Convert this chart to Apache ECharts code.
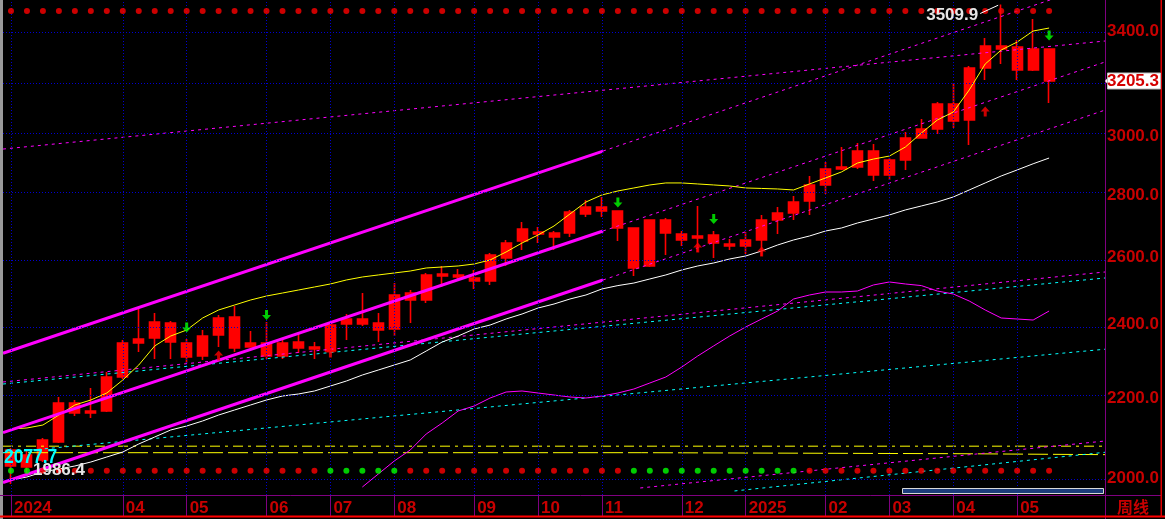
<!DOCTYPE html>
<html><head><meta charset="utf-8">
<script src="https://cdn.jsdelivr.net/npm/echarts@6/dist/echarts.min.js"></script>
<style>html,body{margin:0;padding:0;background:#000;}#c{width:1165px;height:519px;}</style>
</head><body><div id="c"></div><script>
// ---------- data ----------
const weeks = ['2024-02-09','2024-02-23','2024-03-01','2024-03-08','2024-03-15','2024-03-22','2024-03-29','2024-04-05','2024-04-12','2024-04-19','2024-04-26','2024-05-03','2024-05-10','2024-05-17','2024-05-24','2024-05-31','2024-06-07','2024-06-14','2024-06-21','2024-06-28','2024-07-05','2024-07-12','2024-07-19','2024-07-26','2024-08-02','2024-08-09','2024-08-16','2024-08-23','2024-08-30','2024-09-06','2024-09-13','2024-09-20','2024-09-27','2024-10-04','2024-10-11','2024-10-18','2024-10-25','2024-11-01','2024-11-08','2024-11-15','2024-11-22','2024-11-29','2024-12-06','2024-12-13','2024-12-20','2024-12-27','2025-01-03','2025-01-10','2025-01-17','2025-01-24','2025-01-31','2025-02-07','2025-02-14','2025-02-21','2025-02-28','2025-03-07','2025-03-14','2025-03-21','2025-03-28','2025-04-03','2025-04-11','2025-04-18','2025-04-25','2025-05-02','2025-05-09','2025-05-16','','',''];
const monthStart = [0,7,11,16,20,24,29,33,37,42,46,51,55,59,63];
const monthText = ['2024','04','05','06','07','08','09','10','11','12','2025','02','03','04','05'];
const yTicks = [2000,2200,2400,2600,2800,3000,3200,3400];
const yMin = 1960.7, yMax = 3528.8;
// [open, close, low, high]
const candles = [
[2029.4,2068.3,1986.4,2073.2],[2056.2,2027.0,2007.8,2068.3],[2043.9,2093.0,2039.0,2098.0],[2088.1,2187.0,2085.6,2202.6],
[2187.0,2161.2,2153.5,2194.8],[2166.3,2161.2,2148.4,2226.3],[2166.3,2255.5,2163.7,2268.9],[2255.5,2348.5,2250.2,2356.8],
[2348.5,2359.6,2323.5,2445.1],[2362.4,2407.7,2304.3,2433.6],[2404.8,2351.2,2304.3,2410.6],[2348.5,2309.7,2293.3,2359.6],
[2312.5,2368.0,2301.6,2384.9],[2370.8,2419.2,2337.3,2427.8],[2422.0,2334.5,2323.5,2453.9],[2348.5,2337.3,2337.3,2382.1],
[2348.5,2312.5,2304.3,2407.7],[2312.5,2348.5,2304.3,2356.8],[2351.2,2334.5,2320.7,2373.5],[2337.3,2331.7,2304.3,2351.2],
[2326.2,2399.1,2318.0,2407.7],[2402.0,2416.3,2356.8,2430.7],[2416.3,2402.0,2396.3,2492.0],[2404.8,2384.9,2351.2,2433.6],
[2387.8,2486.2,2368.0,2521.7],[2471.4,2492.0,2404.8,2500.9],[2471.4,2546.0,2462.6,2552.0],[2549.0,2542.9,2509.9,2573.3],
[2546.0,2539.9,2530.9,2564.1],[2536.9,2527.9,2504.0,2561.1],[2527.9,2607.1,2515.9,2613.3],[2597.8,2644.5,2573.3,2654.0],
[2650.8,2688.8,2622.6,2711.3],[2679.3,2672.9,2644.5,2695.2],[2676.1,2663.4,2622.6,2682.4],[2676.1,2743.7,2663.4,2750.3],
[2737.3,2760.1,2727.5,2783.1],[2760.1,2747.0,2727.5,2793.0],[2747.0,2692.0,2650.8,2747.0],[2692.0,2567.2,2542.9,2692.0],
[2573.3,2717.7,2570.2,2717.7],[2717.7,2676.1,2607.1,2724.1],[2672.9,2654.0,2635.1,2682.4],[2666.6,2660.2,2616.4,2763.3],
[2669.7,2644.5,2597.8,2682.4],[2641.4,2635.1,2622.6,2657.1],[2635.1,2654.0,2610.2,2679.3],[2654.0,2717.7,2604.0,2734.0],
[2717.7,2740.5,2672.9,2760.1],[2740.5,2776.4,2717.7,2796.4],[2779.8,2833.1,2734.0,2863.5],[2833.1,2887.4,2803.0,2911.5],
[2887.4,2894.3,2884.0,2963.6],[2894.3,2949.5,2887.4,2977.6],[2949.5,2866.9,2846.6,2974.1],[2866.9,2918.2,2850.0,2925.1],
[2918.2,2995.4,2884.0,3016.8],[2995.4,3027.5,2995.4,3063.7],[3027.5,3119.0,3009.6,3126.4],[3119.0,3056.4,3031.0,3197.7],
[3060.1,3255.2,2970.6,3262.9],[3255.2,3341.2,3209.1,3373.0],[3341.2,3329.3,3270.6,3509.9],[3337.2,3247.4,3209.1,3364.9],
[3247.4,3329.3,3243.6,3450.0],[3329.3,3205.3,3122.7,3329.3]];
const maYellow = [2120.5,2123.1,2130.6,2156.0,2181.8,2194.8,2213.1,2247.5,2287.9,2340.4,2368.0,2384.9,2419.2,2442.3,2456.8,2471.4,2483.2,2492.0,2500.9,2509.9,2518.9,2530.9,2539.9,2546.0,2552.0,2558.0,2567.2,2570.2,2573.3,2579.4,2591.7,2616.4,2644.5,2669.7,2698.4,2737.3,2776.4,2799.7,2813.0,2823.0,2833.1,2839.9,2839.9,2836.5,2833.1,2829.7,2823.0,2821.4,2819.7,2816.3,2836.5,2856.7,2877.2,2907.8,2921.6,2932.0,2963.6,3013.2,3060.1,3089.3,3171.3,3270.7,3325.3,3357.1,3401.2,3413.3];
const maWhite = [1996.0,2003.1,2015.0,2022.2,2029.4,2039.0,2051.2,2063.4,2083.1,2100.5,2118.0,2128.1,2140.8,2156.0,2168.9,2181.8,2194.8,2205.2,2210.5,2218.4,2231.5,2244.8,2260.9,2274.3,2287.9,2301.6,2326.2,2351.2,2368.0,2387.8,2399.1,2416.3,2430.7,2448.0,2459.7,2474.4,2486.2,2504.0,2514.1,2521.7,2533.9,2546.0,2561.1,2573.3,2582.5,2594.8,2604.0,2619.5,2638.2,2654.0,2666.6,2682.4,2692.0,2708.0,2720.9,2734.0,2750.3,2763.3,2776.4,2793.0,2816.3,2839.9,2863.5,2884.0,2905.3,2925.1];
const maMagenta = [null,null,null,null,null,null,null,null,null,null,null,null,null,null,null,null,null,null,null,null,null,null,1979.4,2010.2,2041.5,2068.3,2108.0,2135.7,2166.3,2179.2,2200.0,2215.7,2218.4,2213.1,2207.8,2202.6,2200.0,2205.2,2213.1,2223.6,2239.5,2255.5,2282.4,2312.5,2340.4,2368.0,2393.4,2416.3,2439.3,2474.4,2486.2,2495.0,2495.0,2497.9,2515.9,2524.9,2518.9,2514.1,2497.9,2489.1,2468.5,2442.3,2419.2,2416.3,2413.4,2439.3];
// trend lines: [weekPosition, value]
const channelUpper = [[-0.5,2320.0],[37.07,2949.5]];
const channelMiddle = [[-0.5,2111.3],[37.07,2682.4]];
const channelLower = [[-0.5,1990.0],[37.07,2530.9]];
const extUpper = [[37.07,2949.5],[68.5,3607.8]];
const extMiddle = [[37.07,2682.4],[68.5,3278.4]];
const extLower = [[37.07,2530.9],[68.5,3096.5]];
const trendTop = [[-0.5,2956.5],[68.5,3361.1]];
const trendMagenta = [[-0.5,2242.2],[68.5,2555.0]];
const trendCyan = [[-0.5,2236.8],[68.5,2536.9]];
const trendCyanLow = [[-0.5,2061.7],[68.5,2331.2]];
const trendMagentaBottom = [[39.4,1977.1],[68.5,2090.5]];
const trendCyanBottom = [[45.3,1970.1],[68.5,2062.7]];
const level1 = 2077.7;
const level2 = [[-0.5,2061.7],[39.5,2061.7],[39.5,2059.3],[58.9,2059.3],[58.9,2056.9],[68.5,2056.9]];
const topDotLevel = 3482.9, bottomDotLevel = 2018.1;
const bottomSignal = ['g','g','r','r','r','r','r','r','r','r','r','r','r','r','r','r','r','r','r','r','g','g','g','g','g','r','r','r','r','r','r','r','r','r','r','r','r','r','r','g','g','g','g','g','g','g','g','g','g','g','r','r','r','r','r','r','r','r','r','r','r','r','r','r','r','r'];
const downArrowIdx = [11,16,38,44,65];
const downArrowVal = [2392.0,2427.8,2774.9,2720.9,3383.1];
const upArrowIdx = [13,20,43,47,61];
const upArrowVal = [2313.8,2322.1,2630.4,2617.9,3091.1];
const lastClose = 3205.3;
const highMark = [62, 3509.9];
const lowMark = [0, 1986.4];

// ---------- chart ----------
const L = Math.log;
const RED = '#ff0000', AX = '#c80000', PURPLE = '#800080', GRIDC = '#0000d0';
const FONT = 'Liberation Sans';
const isMonth = (i) => monthStart.indexOf(i) >= 0;
const pts = (arr) => arr.map(p => [p[0], L(p[1])]);
function lineS(data, color, width, type, z) {
  return {type:'line', xAxisIndex:1, data: pts(data), symbol:'none', silent:true, animation:false,
    lineStyle:{color, width, type: type || 'solid'}, z: z || 3};
}
const downPath = 'path://M3,0H6V5H9L4.5,10L0,5H3Z';
const upPath = 'path://M4.5,0L9,5H6V10H3V5H0Z';

const option = {
  backgroundColor:'#000',
  animation:false,
  grid:{left:3, top:0, width:1102, height:495, outerBoundsMode:'none'},
  xAxis:[{
    type:'category', data: weeks, boundaryGap:true,
    axisLine:{show:false},
    axisTick:{show:true, alignWithLabel:true, interval:(i)=>isMonth(i), length:21, lineStyle:{color:PURPLE, width:1}},
    axisLabel:{interval:(i)=>isMonth(i), formatter:(v,i)=>monthText[monthStart.indexOf(i)] || '', align:'left',
      color:AX, fontSize:17, fontWeight:'bold', fontFamily:FONT, margin:5, padding:[0,0,0,3]},
    splitLine:{show:false}
  },{
    type:'value', min:-0.5, max:68.5, show:false
  }],
  yAxis:{
    type:'value', position:'right', min:L(yMin), max:L(yMax), scale:true,
    axisLine:{show:false}, axisTick:{show:false}, splitLine:{show:false},
    axisLabel:{customValues: yTicks.map(L), formatter:(v)=>Math.exp(v).toFixed(1), color:AX, fontSize:17,
      fontWeight:'bold', fontFamily:FONT, margin:2, align:'left'}
  },
  series:[
    {type:'line', xAxisIndex:1, data:[[0, L(2000)]], symbol:'none', lineStyle:{opacity:0}, silent:true, z:1,
      markLine:{silent:true, symbol:['none','none'], label:{show:false}, animation:false,
        lineStyle:{color:GRIDC, width:1, type:[1,2]},
        data: yTicks.map(v=>({yAxis:L(v)})).concat(monthStart.map(i=>({xAxis:i})))}},
    {type:'candlestick', xAxisIndex:0, data: candles.map(c=>c.map(L)), barWidth:10.5, z:2,
      itemStyle:{color:RED, color0:RED, borderColor:RED, borderColor0:RED, borderWidth:1.6}},
    lineS(level2, '#ffff00', 1, [20,5], 3),
    lineS([[-0.5, level1],[68.5, level1]], '#ffff00', 1, [10,5,3,5], 3),
    lineS(trendTop, '#ff00ff', 1, [3,4]),
    lineS(trendMagenta, '#ff00ff', 1, [3,4]),
    lineS(trendCyan, '#00ffff', 1, [3,4]),
    lineS(trendCyanLow, '#00ffff', 1, [3,4]),
    lineS(trendMagentaBottom, '#ff00ff', 1, [3,4]),
    lineS(trendCyanBottom, '#00ffff', 1, [3,4]),
    lineS(extUpper, '#ff00ff', 1, [3,4]),
    lineS(extMiddle, '#ff00ff', 1, [3,4]),
    lineS(extLower, '#ff00ff', 1, [3,4]),
    {type:'line', xAxisIndex:0, data: maWhite.map(L), symbol:'none', lineStyle:{color:'#ffffff', width:1}, z:3},
    {type:'line', xAxisIndex:0, data: maMagenta.map(v=>v==null?null:L(v)), symbol:'none', lineStyle:{color:'#ff00ff', width:1}, z:3},
    {type:'line', xAxisIndex:0, data: maYellow.map(L), symbol:'none', lineStyle:{color:'#ffff00', width:1}, z:4},
    lineS(channelUpper, '#ff00ff', 3, 'solid', 4),
    lineS(channelMiddle, '#ff00ff', 3, 'solid', 4),
    lineS(channelLower, '#ff00ff', 3, 'solid', 4),
    {type:'scatter', xAxisIndex:0, symbol:'circle', symbolSize:6, z:6, silent:true,
      data: candles.map((c,i)=>[i, L(topDotLevel)]), itemStyle:{color:RED}},
    {type:'scatter', xAxisIndex:0, symbol:'circle', symbolSize:6, z:6, silent:true,
      data: bottomSignal.map((s,i)=>({value:[i, L(bottomDotLevel)], itemStyle:{color: s==='g' ? '#00ff00' : RED}}))},
    {type:'scatter', xAxisIndex:0, symbol:downPath, symbolSize:[9,10], z:6, silent:true,
      data: downArrowIdx.map((i,k)=>[i, L(downArrowVal[k])]), itemStyle:{color:'#00ff00'}},
    {type:'scatter', xAxisIndex:0, symbol:upPath, symbolSize:[9,10], z:6, silent:true,
      data: upArrowIdx.map((i,k)=>[i, L(upArrowVal[k])]), itemStyle:{color:RED}}
  ]
};
const chart = echarts.init(document.getElementById('c'));
chart.setOption(option);

const P = (x, v) => chart.convertToPixel({seriesIndex:0}, [x, L(v)]);
const lc = P(68.5, lastClose);
const hp = P(highMark[0], highMark[1]);
const lp = P(lowMark[0], lowMark[1]);
const l1 = P(-0.5, level1);
const boldFont = 'bold 17px "' + FONT + '"';
chart.setOption({graphic:[
  {type:'rect', shape:{x:0,y:0,width:3,height:519}, style:{fill:'#9a9a9a'}, z:50, silent:true},
  {type:'line', shape:{x1:0,y1:495.5,x2:1161,y2:495.5}, style:{stroke:PURPLE, lineWidth:1}, z:50, silent:true},
  {type:'line', shape:{x1:1105.5,y1:0,x2:1105.5,y2:519}, style:{stroke:PURPLE, lineWidth:1}, z:50, silent:true},
  {type:'rect', shape:{x:0,y:515.5,width:1165,height:2}, style:{fill:'#ff0000'}, z:50, silent:true},
  {type:'rect', shape:{x:1160.5,y:0,width:1.5,height:517}, style:{fill:'#e00000'}, z:50, silent:true},
  {type:'rect', shape:{x:902.5,y:488.5,width:201,height:5}, style:{fill:'#1c3c7c', stroke:'#d8d8d8', lineWidth:1}, z:50, silent:true},
  {type:'text', x:1117, y:507, style:{text:'周线', fill:AX, font:'bold 16px "Noto Sans CJK SC"', verticalAlign:'middle'}, z:60, silent:true},
  {type:'polygon', shape:{points:[[1105, lc[1]],[1109, lc[1]-5],[1109, lc[1]+5]]}, style:{fill:'#ffffff'}, z:60, silent:true},
  {type:'rect', shape:{x:1107.5, y:lc[1]-8, width:53, height:16}, style:{fill:'#ffffff', stroke:'#bdbdbd', lineWidth:1}, z:60, silent:true},
  {type:'text', x:1107, y:lc[1]+0.5, style:{text:lastClose.toFixed(1), fill:'#d40000', font:boldFont, verticalAlign:'middle'}, z:61, silent:true},
  {type:'text', x:hp[0]-23, y:hp[1]+11, style:{text:highMark[1].toFixed(1), fill:'#e6e6e6', font:boldFont, align:'right', verticalAlign:'middle'}, z:61, silent:true},
  {type:'line', shape:{x1:hp[0]-21, y1:hp[1]+9, x2:hp[0]-3, y2:hp[1]+0.7}, style:{stroke:'#ffffff', lineWidth:1}, z:61, silent:true},
  {type:'text', x:lp[0]+22, y:lp[1]-14, style:{text:lowMark[1].toFixed(1), fill:'#e6e6e6', font:boldFont, verticalAlign:'middle'}, z:61, silent:true},
  {type:'text', x:4, y:l1[1]+11.5, scaleX:0.87, style:{text:level1.toFixed(1), fill:'#00ffff', font:'bold 20px "' + FONT + '"', verticalAlign:'middle'}, z:61, silent:true}
]});
</script></body></html>
